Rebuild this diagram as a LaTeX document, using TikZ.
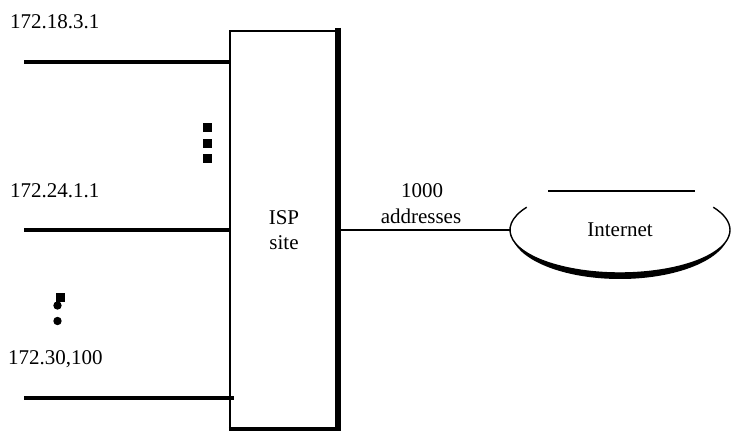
\documentclass[tikz,border=0pt]{standalone}
\usepackage{fontspec}
\setmainfont{Liberation Serif}
\usetikzlibrary{shapes.geometric}
\begin{document}
\begin{tikzpicture}[x=1pt,y=-1pt,
  lbl/.style={inner sep=0pt,font=\fontsize{21}{25}\selectfont},
  netline/.style={line width=3.8pt},
  dotsq/.style={fill=black,draw=none}]
\useasboundingbox (0,0) rectangle (732,431);
% ISP box
\node[draw=none,minimum width=108pt,minimum height=398pt,inner sep=0pt,
      align=center,font=\fontsize{21}{25}\selectfont] (isp) at (284,230) {ISP\\site};
\draw[line width=2pt] (isp.south west) -- (isp.north west) -- (isp.north east);
\draw[line width=6pt] ([yshift=3pt]isp.north east) -- (isp.south east);
\draw[line width=4pt] ([xshift=-1pt]isp.south west) -- ([xshift=3pt]isp.south east);
% left networks
\coordinate (n1) at (24,62);
\coordinate (n2) at (24,230);
\coordinate (n3) at (24,398);
\draw[netline] (n1) -- (n1 -| isp.west);
\draw[netline] (n2) -- (n2 -| isp.west);
\draw[netline] (n3) -- ([xshift=4pt]n3 -| isp.west);
\node[lbl,anchor=base west] (t1) at (10,28) {172.18.3.1};
\node[lbl,anchor=base west] (t2) at (10,197) {172.24.1.1};
\node[lbl,anchor=base west] (t3) at (8,364) {172.30,100};
% dots
\fill[dotsq] (203,123) rectangle (212,132);
\fill[dotsq] (203,139) rectangle (212,148);
\fill[dotsq] (203,154) rectangle (212,163);
\fill[dotsq] (56,293) rectangle (65,302);
\fill (57.5,305.5) circle (4.2);
\fill (57.5,321) circle (4.2);
% Internet
\node[ellipse,draw=none,minimum width=220pt,minimum height=86pt,inner sep=0pt,
      font=\fontsize{21}{25}\selectfont] (inet) at (620,230) {Internet};
\draw[line width=1.4pt] ([shift={(212:110 and 43)}]inet.center)
   arc[start angle=212,end angle=-32,x radius=110,y radius=43];
\fill ([shift={(175:110 and 43)}]inet.center)
   arc[start angle=175,end angle=5,x radius=110,y radius=43]
   -- ([shift={(5:109 and 48)},yshift=-1pt]inet.center)
   arc[start angle=5,end angle=175,x radius=109,y radius=48] -- cycle;
\coordinate (itl) at (548,191);
\coordinate (itr) at (695,191);
\draw[line width=2.6pt] (itl) -- (itr);
% uplink
\draw[line width=2.5pt] (isp.east) -- (inet.west);
\node[lbl,align=center,anchor=base] (addr) at (422,197) {1000};
\node[lbl,anchor=base] (addr2) at (421,223) {addresses};
\end{tikzpicture}
\end{document}
